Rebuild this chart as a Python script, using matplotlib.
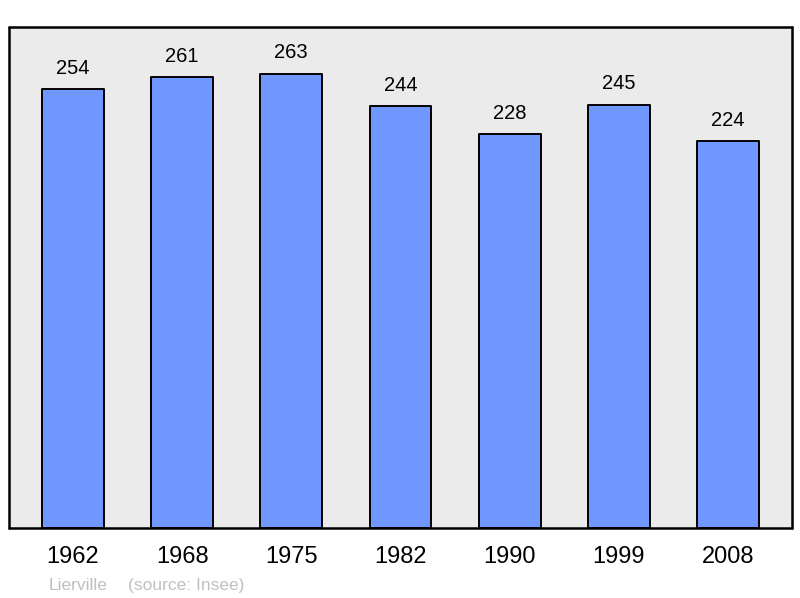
import matplotlib
matplotlib.use("Agg")
import matplotlib.pyplot as plt

years = ["1962", "1968", "1975", "1982", "1990", "1999", "2008"]
population = [254, 261, 263, 244, 228, 245, 224]
town = "Lierville"
source = "(source: Insee)"

plt.rcParams['font.family'] = ['Liberation Sans', 'DejaVu Sans']

fig = plt.figure(figsize=(8, 5.98), dpi=100)
ax = fig.add_axes([9/800, 1-528/598, (792-9)/800, (528-27)/598])
ax.set_facecolor('#ebebeb')

x = list(range(len(years)))
bars = ax.bar(x, population, width=0.567, color='#7097ff', edgecolor='black',
              linewidth=1.4, zorder=2)
for b in bars:
    b.set_joinstyle('round')

for xi, v in zip(x, population):
    ax.annotate(str(v), (xi, v), xytext=(0, 11), textcoords='offset points',
                ha='center', va='baseline', fontsize=14.5, color='black')

ax.set_xlim(-0.585, len(years) - 1 + 0.585)
ax.set_ylim(0, 290)
ax.set_xticks(x)
ax.set_xticklabels(years, fontsize=17)
ax.tick_params(axis='x', length=0, pad=13)
ax.set_yticks([])
for s in ax.spines.values():
    s.set_linewidth(1.8)
    s.set_color('black')
    s.set_joinstyle('round')
    s.set_capstyle('round')

fig.text(49/800, 1-590/598, town, fontsize=12.5, color='#c0c0c0', ha='left', va='baseline')
fig.text(128/800, 1-590/598, source, fontsize=12.5, color='#c0c0c0', ha='left', va='baseline')

fig.savefig('out.png', dpi=100, facecolor='white')
